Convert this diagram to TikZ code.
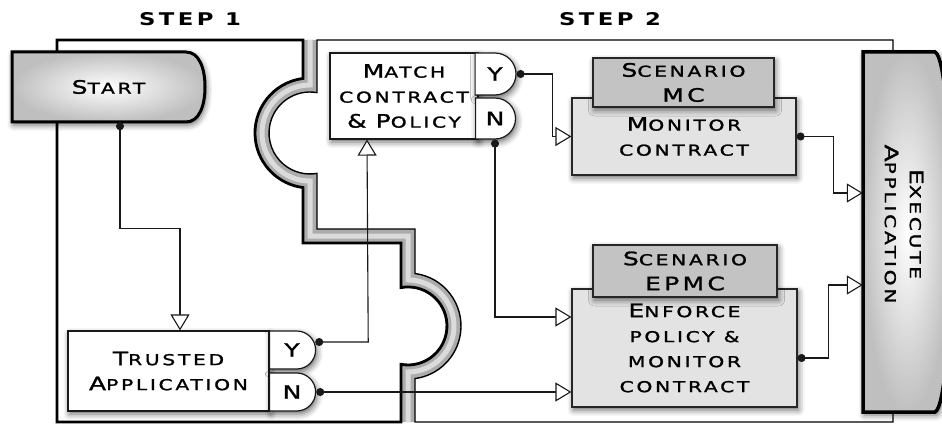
\documentclass[tikz,border=0pt]{standalone}
\usepackage{fontspec}
\setmainfont{DejaVu Sans}
\newfontfamily\bankfont[FakeStretch=1.35,LetterSpace=18,FakeBold=1.4]{DejaVu Sans}
\newfontfamily\headfont[FakeStretch=1.3,LetterSpace=20]{DejaVu Sans Bold}
\usetikzlibrary{arrows.meta,shapes.misc,shadows.blur,calc}
\newcommand\Bg[1]{{\fontsize{18.5}{25}\selectfont #1}}
\tikzset{
  softshadow/.style={blur shadow={shadow xshift=1.5pt, shadow yshift=-3pt, shadow blur radius=6pt, shadow opacity=60}},
  txt/.style={font=\bankfont\fontsize{15}{25}\selectfont, text=black, align=center, inner sep=0pt},
  mainbox/.style={txt, rectangle, draw=black!90, line width=1.2pt, fill=white, softshadow},
  port/.style={txt, rounded rectangle, rounded rectangle left arc=none, draw=black!90, line width=1.2pt, fill=white, softshadow},
  scbox/.style={txt, rectangle, draw=black!85, line width=1.4pt, fill=gray!47, softshadow},
  actbox/.style={txt, rectangle, draw=black!85, line width=1.2pt, fill=gray!22, softshadow},
  endshape/.style={draw=black, shading=radial, inner color=white, outer color=gray!50, softshadow},
  head/.style={font=\headfont\fontsize{17.5}{18}\selectfont, text=black, inner sep=0pt},
  conn/.style={draw=black!90, line width=1.1pt, arrows={Circle[length=8pt]-Triangle[length=16pt,width=19pt,fill=white,line width=1.1pt]}}
}
\begin{document}
\begin{tikzpicture}[x=1pt,y=-1pt]
\useasboundingbox (0,0) rectangle (942,425);
% gray band between the two steps
\draw[line width=14pt, gray!65, line join=miter] (310,40) -- (310,85) arc[start angle=-90,end angle=-270,radius=48] -- (310,236) -- (408,236) -- (408,280) arc[start angle=-90,end angle=90,radius=46] -- (408,422);
\draw[line width=5pt, gray!28, line join=miter] (310,40) -- (310,85) arc[start angle=-90,end angle=-270,radius=48] -- (310,236) -- (408,236) -- (408,280) arc[start angle=-90,end angle=90,radius=46] -- (408,422);
% step 1 panel
\draw[line width=2.8pt, line join=miter] (57,422) -- (57,40) -- (303,40) -- (303,78.45) arc[start angle=-97.3,end angle=-262.7,radius=55] -- (303,243) -- (401,243) -- (401,287.6) arc[start angle=-100.3,end angle=100.3,radius=39] -- (401,422) -- cycle;
% step 2 panel
\draw[line width=1.4pt, line join=miter] (893,40) -- (317,40) -- (317,92.6) arc[start angle=-80.2,end angle=-279.8,radius=41] -- (317,229) -- (415,229) -- (415,273.5) arc[start angle=-82.4,end angle=82.4,radius=53] -- (415,422) -- (893,422) -- cycle;

\node[head] (step1) at (190,19) {STEP 1};
\node[head] (step2) at (610,19) {STEP 2};

% start shape
\path[endshape, line width=3pt] (12,52) -- (186,52) .. controls (199,52) and (205,68) .. (205,87) .. controls (205,106) and (199,122) .. (186,122) -- (12,122) -- cycle;
\node[txt, minimum width=193pt, minimum height=70pt] (start) at (108.5,87) {\Bg{S}TART};

\node[mainbox, minimum width=201pt, minimum height=80pt] (trusted) at (168.5,371) {\Bg{T}RUSTED\\\Bg{A}PPLICATION};
\node[port, minimum width=46pt, minimum height=38pt] (tY) at (292,350) {\Bg{Y}};
\node[port, minimum width=46pt, minimum height=38pt] (tN) at (292,392) {\Bg{N}};

\node[mainbox, minimum width=148pt, minimum height=86pt] (match) at (404,96) {\Bg{M}ATCH\\CONTRACT\\\Bg{\&} \Bg{P}OLICY};
\node[port, minimum width=34pt, minimum height=42pt] (mY) at (495,74) {\Bg{Y}};
\node[port, minimum width=34pt, minimum height=41pt] (mN) at (495,118.5) {\Bg{N}};

\node[actbox, minimum width=224pt, minimum height=77pt] (monitor) at (684,136.5) {\Bg{M}ONITOR\\CONTRACT};
\node[scbox, minimum width=181pt, minimum height=49pt] (scMC) at (683.5,82.5) {\Bg{S}CENARIO\\\Bg{MC}};

\node[actbox, minimum width=225pt, minimum height=118pt] (enforce) at (684.5,348) {\Bg{E}NFORCE\\POLICY \&\\MONITOR\\CONTRACT};
\node[scbox, minimum width=184pt, minimum height=52pt] (scEPMC) at (685,271) {\Bg{S}CENARIO\\\Bg{EPMC}};

% execute shape
\path[endshape, line width=3.5pt] (863,52) -- (935,52) .. controls (945,56) and (951,140) .. (951,232) .. controls (951,324) and (945,408) .. (935,412) -- (863,412) -- cycle;
\node[txt, minimum width=87pt, minimum height=360pt] (exec) at (906.5,232) {};
\node[txt, rotate=-90] (execlabel) at (904,224) {\Bg{E}XECUTE\\\Bg{A}PPLICATION};

% connectors
\draw[conn] ([xshift=11.5pt]start.south) -- ++(0,106) -| ([xshift=11.5pt]trusted.north);
\draw[conn] ($(tY.east)+(-1,-8)$) -- ++(53,0) -- ([xshift=-37pt]match.south);
\draw[conn] (tN.east) -- (tN.east -| enforce.west);
\draw[conn] (mY.east) -- ++(36,0) |- (monitor.west);
\draw[conn] (mN.south) |- ($(enforce.west)+(0,-31)$);
\draw[conn] (monitor.east) -- ++(37,0) |- ($(exec.west)+(0,-39)$);
\draw[conn] ($(enforce.east)+(0,10)$) -- ++(31,0) |- ($(exec.west)+(0,53)$);
\end{tikzpicture}
\end{document}
